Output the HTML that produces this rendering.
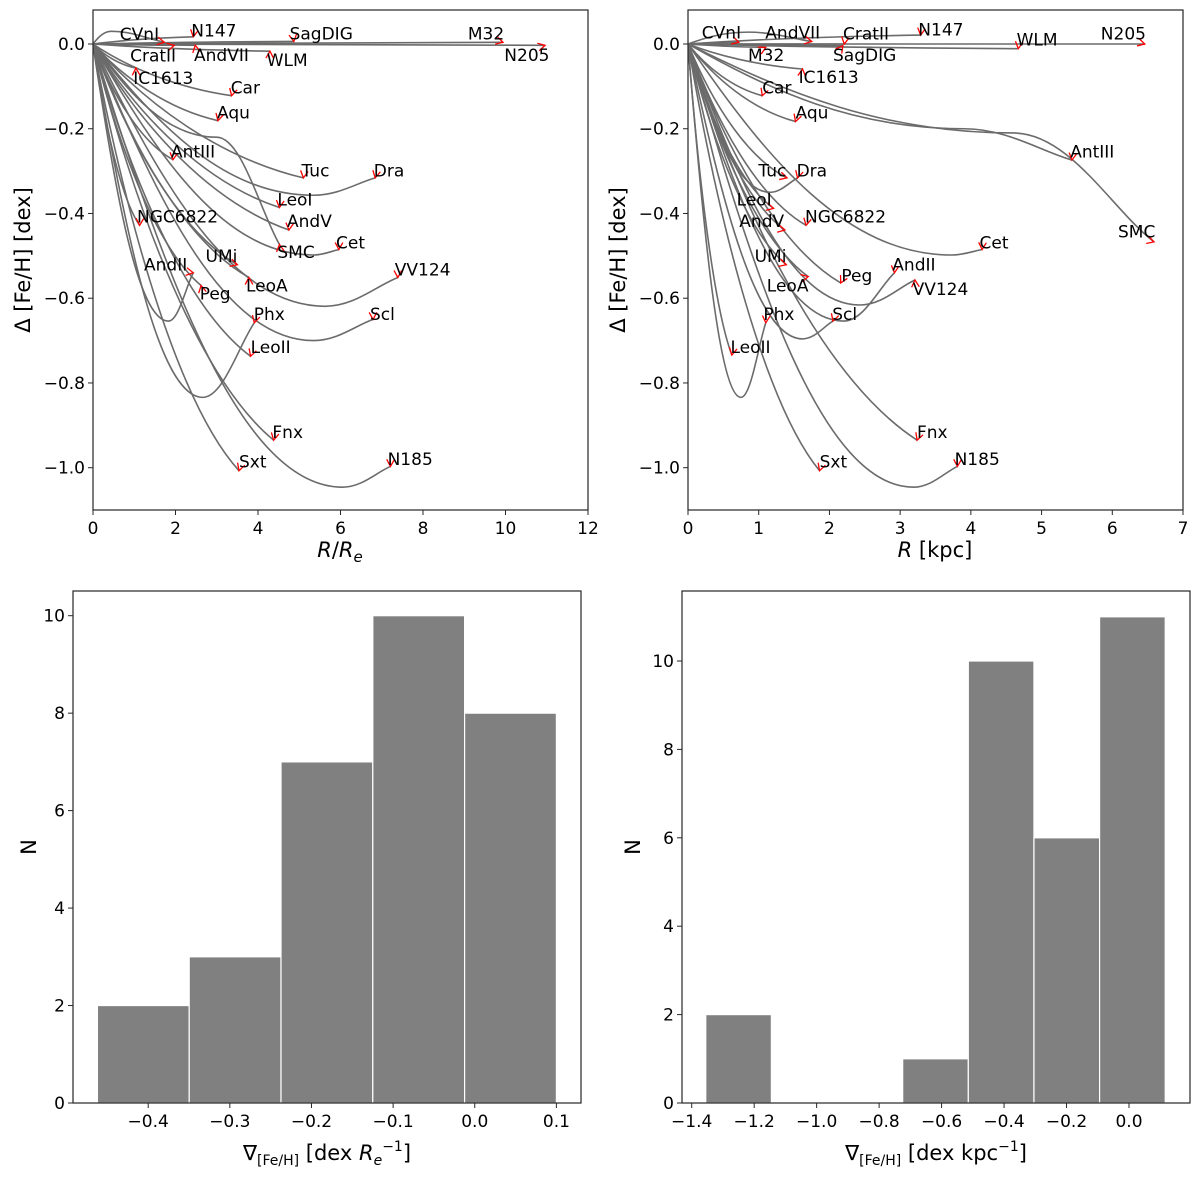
<!DOCTYPE html>
<html><head><meta charset="utf-8"><style>
html,body{margin:0;padding:0;background:#fff}
svg{display:block;font-family:"DejaVu Sans","Liberation Sans",sans-serif}
</style></head><body>
<svg id="fig" width="1200" height="1179" viewBox="0 0 1200 1179" xmlns="http://www.w3.org/2000/svg"></svg>
<script>
const names = ["CVnI","N147","CratII","AndVII","WLM","SagDIG","M32","N205","IC1613","Car","Aqu","AntIII","Tuc","Dra","LeoI","AndV","SMC","Cet","NGC6822","UMi","LeoA","VV124","AndII","Peg","Phx","Scl","LeoII","Fnx","Sxt","N185"];
// top-left: R/Re
const reEnd = [1.73,2.43,1.97,2.48,4.29,4.87,9.94,10.96,1.04,3.36,3.03,1.94,5.10,6.84,4.52,4.75,4.52,5.96,1.13,3.50,3.78,7.39,2.43,2.62,3.91,6.79,3.82,4.38,3.54,7.21];
const reFeEnd = [0.004,0.017,-0.003,-0.003,-0.017,0.006,0.004,-0.003,-0.057,-0.122,-0.181,-0.273,-0.316,-0.316,-0.386,-0.439,-0.473,-0.485,-0.428,-0.521,-0.551,-0.551,-0.540,-0.570,-0.658,-0.650,-0.737,-0.935,-1.007,-0.997];
const reMid = [0.44,null,null,null,null,null,null,null,null,null,null,null,null,5.35,null,null,3.0,5.35,null,null,null,5.63,1.83,null,2.66,5.35,null,null,null,6.05];
const reFeMid = [0.03,null,null,null,null,null,null,null,null,null,null,null,null,-0.357,null,null,-0.22,-0.498,null,null,null,-0.619,-0.654,null,-0.834,-0.700,null,null,null,-1.046];
// top-right: R kpc
const kpcEnd = [0.72,3.29,2.21,1.75,4.67,2.19,1.10,6.46,1.62,1.05,1.52,5.43,1.40,1.55,1.21,1.37,6.59,4.16,1.67,1.39,1.70,3.21,2.92,2.16,1.10,2.05,0.62,3.24,1.86,3.81];
const kpcFeEnd = [0.004,0.021,0.0,0.006,-0.011,-0.004,-0.008,0.0,-0.059,-0.122,-0.183,-0.274,-0.316,-0.316,-0.388,-0.439,-0.467,-0.485,-0.428,-0.521,-0.549,-0.557,-0.540,-0.564,-0.658,-0.654,-0.734,-0.935,-1.007,-0.997];
const kpcMid = [null,null,null,0.85,null,null,null,null,null,null,null,3.9,null,1.16,null,null,4.6,3.73,null,null,null,2.43,2.2,null,0.75,1.62,null,null,null,3.19];
const kpcFeMid = [null,null,null,0.028,null,null,null,null,null,null,null,-0.2,null,-0.35,null,null,-0.21,-0.498,null,null,null,-0.616,-0.654,null,-0.834,-0.696,null,null,null,-1.046];
// histograms
const histReCounts = [2,3,7,10,8];
const histReRange = [-0.4622,0.1];
const histKpcCounts = [2,0,0,1,10,6,11];
const histKpcRange = [-1.355,0.116];
const ticksFe = [0.0,-0.2,-0.4,-0.6,-0.8,-1.0];
const ticksRe = [0,2,4,6,8,10,12];
const ticksKpc = [0,1,2,3,4,5,6,7];
const ticksN = [0,2,4,6,8,10];
const ticksGradRe = [-0.4,-0.3,-0.2,-0.1,0.0,0.1];
const ticksGradKpc = [-1.4,-1.2,-1.0,-0.8,-0.6,-0.4,-0.2,0.0];
// label layout (pixel anchors)
const labTL = [[119.8,40],[191.3,36.5],[130.1,61.5],[194,60.8],[266.7,66],[289.6,39.3],[467.9,39.3],[504.3,60.8],[133.2,84],[230.7,93.7],[217,118.7],[171,157.3],[301.5,176.3],[373.8,176.3],[277.4,205.6],[287,227],[277.4,258],[336,248.5],[137,222.4],[205.5,262],[246,291.4],[394.8,275.3],[144,270.6],[199.7,299.6],[253.7,320],[370,320],[250.6,353],[272.4,438],[239,467.6],[387.6,464.8]];
const labTR = [[701.8,38.6],[918.3,35.7],[843,39.3],[765.3,38.6],[1016.6,45.4],[833,60.8],[748,60.8],[1100.8,39.3],[798.6,83],[762.2,93.7],[795.5,118.7],[1070.2,157.3],[758.4,176.3],[796.6,176.3],[736.6,205.6],[739.3,227],[1118,237.7],[979.5,248.5],[805,222.4],[754.6,262],[766.8,291.4],[912.6,295],[892.3,270.6],[841.4,281.7],[763.4,320],[832.2,320],[730.5,353],[917,438],[819.6,467.6],[954.6,464.8]];

const svg = document.getElementById('fig');
const NS = 'http://www.w3.org/2000/svg';
function mk(tag, attrs, parent){const e=document.createElementNS(NS,tag);for(const k in attrs)e.setAttribute(k,attrs[k]);(parent||svg).appendChild(e);return e;}
function lin(d0,d1,r0,r1){return v=>r0+(v-d0)*(r1-r0)/(d1-d0);}
function fmt(v,dec){let s=v.toFixed(dec);if(Math.abs(v)<1e-9)s=(0).toFixed(dec);return s.replace('-','\u2212');}

function axesBox(L,T,R,B,name){
  const r=mk('rect',{x:L,y:T,width:R-L,height:B-T,fill:'none',stroke:'#262626','stroke-width':1.2});
  
  
}
function xTicks(ticks,sx,B,dec,name){
  const g=mk('g',{});
  
  
  ticks.forEach(t=>{const x=sx(t);mk('line',{x1:x,x2:x,y1:B,y2:B+5,stroke:'#262626','stroke-width':1},g);
    const tx=mk('text',{x:x,y:B+24,'text-anchor':'middle','font-size':17,fill:'#000'},g);tx.textContent=fmt(t,dec);});
}
function yTicks(ticks,sy,L,dec,name){
  const g=mk('g',{});
  
  
  ticks.forEach(t=>{const y=sy(t);mk('line',{x1:L-5,x2:L,y1:y,y2:y,stroke:'#262626','stroke-width':1},g);
    const tx=mk('text',{x:L-8,y:y+6,'text-anchor':'end','font-size':17,fill:'#000'},g);tx.textContent=fmt(t,dec);});
}

function curvePanel(L,T,R,B,xmax,ends,fes,mids,femids,labs,xticks,key){
  const sx=lin(0,xmax,L,R), sy=lin(0,-1,44,467.7);
  const g=mk('g',{});
  
  
  const cp=mk('clipPath',{id:'clip'+key});mk('rect',{x:L,y:T,width:R-L,height:B-T},cp);
  g.setAttribute('clip-path','url(#clip'+key+')');
  names.forEach((n,i)=>{
    const x0=sx(0),y0=sy(0),xe=sx(ends[i]),ye=sy(fes[i]);
    let d;
    if(mids[i]!==null){
      const xm=sx(mids[i]),ym=sy(femids[i]);
      d=`M${x0},${y0} C${x0+(xm-x0)*0.3},${y0+(ym-y0)*0.55} ${xm-(xm-x0)*0.4},${ym} ${xm},${ym} C${xm+(xe-xm)*0.4},${ym} ${xe-(xe-xm)*0.3},${ye-(ye-ym)*0.3} ${xe},${ye}`;
    } else {
      d=`M${x0},${y0} C${x0+(xe-x0)*0.25},${y0+(ye-y0)*0.45} ${x0+(xe-x0)*0.6},${y0+(ye-y0)*0.85} ${xe},${ye}`;
    }
    const p=mk('path',{d:d,fill:'none',stroke:'#6b6b6b','stroke-width':1.6},g);
    
    
  });
  const ga=mk('g',{});
  
  
  names.forEach((n,i)=>{
    const xe=sx(ends[i]),ye=sy(fes[i]);
    const lx=labs[i][0]+3,ly=labs[i][1]-6;
    let dx=lx-xe,dy=ly-ye;const len=Math.hypot(dx,dy)||1;dx/=len;dy/=len;
    const a=0.5,h=8;
    const c=Math.cos(a),s=Math.sin(a);
    const p1=[xe+h*(dx*c-dy*s),ye+h*(dx*s+dy*c)];
    const p2=[xe+h*(dx*c+dy*s),ye+h*(-dx*s+dy*c)];
    const m=mk('path',{d:`M${p1[0]},${p1[1]} L${xe},${ye} L${p2[0]},${p2[1]}`,fill:'none',stroke:'#ff0000','stroke-width':1.3},ga);
    
    
    const t=mk('text',{x:labs[i][0],y:labs[i][1],'font-size':17,fill:'#000'},ga);
    t.textContent=n;
    
    
  });
  axesBox(L,T,R,B,key+'-axes');
  xTicks(xticks,sx,B,0,key+'-x-ticks');
  yTicks(ticksFe,sy,L,1,key+'-y-ticks');
}

function histPanel(L,T,R,B,counts,range,ticks,x0v,x1v,x0p,x1p,y10,key){
  const sx=lin(x0v,x1v,x0p,x1p), sy=lin(0,10,B,y10);
  const g=mk('g',{});
  
  
  const w=(range[1]-range[0])/counts.length;
  counts.forEach((c,i)=>{
    if(c<=0)return;
    const a=sx(range[0]+i*w),b=sx(range[0]+(i+1)*w);
    const r=mk('rect',{x:a,y:sy(c),width:b-a,height:sy(0)-sy(c),fill:'#808080',stroke:'#ffffff','stroke-width':1.2},g);
    
    
  });
  axesBox(L,T,R,B,key+'-axes');
  xTicks(ticks,sx,B,1,key+'-x-ticks');
  yTicks(ticksN,sy,L,0,key+'-y-ticks');
}

curvePanel(93,10,588,510,12,reEnd,reFeEnd,reMid,reFeMid,labTL,ticksRe,'top-left');
curvePanel(688,10,1183,510,7,kpcEnd,kpcFeEnd,kpcMid,kpcFeMid,labTR,ticksKpc,'top-right');
histPanel(73,591,581,1103,histReCounts,histReRange,ticksGradRe,-0.4,0.1,148.2,556.4,615.7,'bottom-left');
histPanel(682,591,1190,1103,histKpcCounts,histKpcRange,ticksGradKpc,-1.4,0.0,691.7,1129,661,'bottom-right');

function addText(html,attrs,name){
  const t=mk('text',attrs);t.innerHTML=html;
  
  
}
addText('<tspan font-style="italic">R</tspan>/<tspan font-style="italic">R</tspan><tspan font-style="italic" font-size="15" dy="5">e</tspan>',{x:340,y:557,'text-anchor':'middle','font-size':21},'top-left-x-title');
addText('<tspan font-style="italic">R</tspan> [kpc]',{x:935,y:557,'text-anchor':'middle','font-size':21},'top-right-x-title');
addText('Δ [Fe/H] [dex]',{x:0,y:0,'text-anchor':'middle','font-size':21,transform:'translate(30,260) rotate(-90)'},'top-left-y-title');
addText('Δ [Fe/H] [dex]',{x:0,y:0,'text-anchor':'middle','font-size':21,transform:'translate(625,260) rotate(-90)'},'top-right-y-title');
addText('N',{x:0,y:0,'text-anchor':'middle','font-size':21,transform:'translate(36,847) rotate(-90)'},'bottom-left-y-title');
addText('N',{x:0,y:0,'text-anchor':'middle','font-size':21,transform:'translate(640,847) rotate(-90)'},'bottom-right-y-title');
addText('∇<tspan font-size="14" dy="5">[Fe/H]</tspan><tspan dy="-5"> [dex </tspan><tspan font-style="italic">R</tspan><tspan font-style="italic" font-size="14" dy="5">e</tspan><tspan font-size="14" dy="-14">−1</tspan><tspan dy="9">]</tspan>',{x:327,y:1160,'text-anchor':'middle','font-size':21},'bottom-left-x-title');
addText('∇<tspan font-size="14" dy="5">[Fe/H]</tspan><tspan dy="-5"> [dex kpc</tspan><tspan font-size="14" dy="-9">−1</tspan><tspan dy="9">]</tspan>',{x:936,y:1160,'text-anchor':'middle','font-size':21},'bottom-right-x-title');
</script>
</body></html>
